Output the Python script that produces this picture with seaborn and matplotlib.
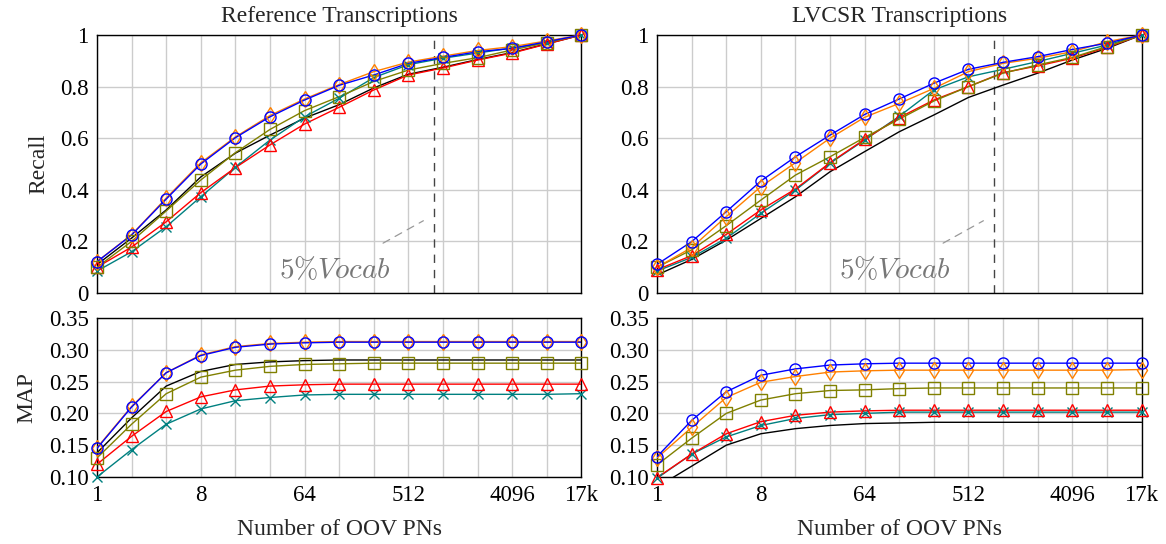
import numpy as np
import pandas as pd
import matplotlib
matplotlib.use('Agg')
import matplotlib.pyplot as plt
import seaborn as sns

sns.set_theme(style='white')
plt.rcParams['font.family'] = ['Liberation Serif', 'DejaVu Serif']
plt.rcParams['mathtext.fontset'] = 'cm'

# number of OOV proper names (last point is the full 17k list)
oov_counts = [1, 2, 4, 8, 16, 32, 64, 128, 256, 512, 1024, 2048, 4096, 8192, 16384]
x_tick_values = [1, 8, 64, 512, 4096, 16384]
x_tick_labels = ['1', '8', '64', '512', '4096', '17k']
vocab_5pct = 850

recall_ticks = [0, 0.2, 0.4, 0.6, 0.8, 1.0]
recall_tick_labels = ['0', '0.2', '0.4', '0.6', '0.8', '1']
map_ticks = [0.10, 0.15, 0.20, 0.25, 0.30, 0.35]
map_tick_labels = ['0.10', '0.15', '0.20', '0.25', '0.30', '0.35']

# Recall, reference transcriptions
ref_recall_blue = [0.121, 0.225, 0.364, 0.500, 0.602, 0.683, 0.748, 0.805, 0.845, 0.890, 0.913, 0.935, 0.948, 0.974, 1.0]
ref_recall_orange = [0.122, 0.226, 0.368, 0.505, 0.605, 0.688, 0.752, 0.808, 0.858, 0.895, 0.918, 0.940, 0.955, 0.977, 1.0]
ref_recall_black = [0.110, 0.213, 0.322, 0.450, 0.542, 0.612, 0.678, 0.730, 0.795, 0.848, 0.875, 0.905, 0.932, 0.966, 1.0]
ref_recall_olive = [0.100, 0.200, 0.318, 0.438, 0.544, 0.634, 0.707, 0.761, 0.820, 0.864, 0.890, 0.912, 0.942, 0.970, 1.0]
ref_recall_red = [0.100, 0.178, 0.276, 0.389, 0.486, 0.574, 0.655, 0.720, 0.787, 0.845, 0.872, 0.903, 0.930, 0.965, 1.0]
ref_recall_teal = [0.085, 0.160, 0.257, 0.373, 0.487, 0.593, 0.683, 0.755, 0.835, 0.885, 0.910, 0.930, 0.950, 0.970, 1.0]

# Recall, LVCSR transcriptions
asr_recall_blue = [0.111, 0.199, 0.315, 0.434, 0.528, 0.612, 0.692, 0.752, 0.813, 0.867, 0.894, 0.916, 0.944, 0.968, 1.0]
asr_recall_orange = [0.100, 0.176, 0.296, 0.412, 0.505, 0.600, 0.681, 0.735, 0.793, 0.858, 0.890, 0.910, 0.935, 0.974, 1.0]
asr_recall_black = [0.070, 0.130, 0.205, 0.289, 0.373, 0.470, 0.548, 0.625, 0.690, 0.758, 0.806, 0.852, 0.903, 0.948, 1.0]
asr_recall_olive = [0.100, 0.167, 0.261, 0.360, 0.457, 0.528, 0.603, 0.674, 0.744, 0.800, 0.852, 0.884, 0.913, 0.955, 1.0]
asr_recall_red = [0.090, 0.145, 0.227, 0.322, 0.403, 0.505, 0.596, 0.680, 0.748, 0.800, 0.854, 0.880, 0.910, 0.952, 1.0]
asr_recall_teal = [0.085, 0.138, 0.212, 0.309, 0.399, 0.503, 0.593, 0.685, 0.787, 0.838, 0.867, 0.897, 0.929, 0.961, 1.0]

# MAP, reference transcriptions
ref_map_blue = [0.145, 0.210, 0.264, 0.291, 0.304, 0.309, 0.311, 0.312, 0.312, 0.312, 0.312, 0.312, 0.312, 0.312, 0.312]
ref_map_orange = [0.146, 0.211, 0.264, 0.292, 0.305, 0.310, 0.312, 0.313, 0.313, 0.313, 0.313, 0.313, 0.313, 0.313, 0.313]
ref_map_black = [0.138, 0.193, 0.243, 0.266, 0.277, 0.281, 0.283, 0.284, 0.284, 0.284, 0.284, 0.284, 0.284, 0.284, 0.284]
ref_map_olive = [0.130, 0.183, 0.231, 0.257, 0.268, 0.274, 0.277, 0.278, 0.279, 0.279, 0.279, 0.279, 0.279, 0.279, 0.279]
ref_map_red = [0.120, 0.164, 0.203, 0.226, 0.237, 0.243, 0.245, 0.246, 0.246, 0.246, 0.246, 0.246, 0.246, 0.246, 0.246]
ref_map_teal = [0.100, 0.143, 0.183, 0.207, 0.220, 0.225, 0.229, 0.230, 0.230, 0.230, 0.230, 0.230, 0.230, 0.230, 0.231]

# MAP, LVCSR transcriptions
asr_map_blue = [0.132, 0.189, 0.234, 0.260, 0.270, 0.276, 0.278, 0.279, 0.279, 0.279, 0.279, 0.279, 0.279, 0.279, 0.279]
asr_map_orange = [0.130, 0.178, 0.225, 0.249, 0.258, 0.265, 0.267, 0.268, 0.268, 0.268, 0.268, 0.268, 0.268, 0.268, 0.269]
asr_map_black = [0.084, 0.117, 0.150, 0.168, 0.176, 0.181, 0.184, 0.185, 0.186, 0.186, 0.186, 0.186, 0.186, 0.186, 0.186]
asr_map_olive = [0.119, 0.161, 0.200, 0.221, 0.231, 0.236, 0.237, 0.239, 0.240, 0.240, 0.240, 0.240, 0.240, 0.240, 0.240]
asr_map_red = [0.099, 0.136, 0.168, 0.187, 0.197, 0.202, 0.204, 0.205, 0.205, 0.205, 0.205, 0.205, 0.205, 0.205, 0.205]
asr_map_teal = [0.098, 0.136, 0.163, 0.181, 0.192, 0.198, 0.200, 0.202, 0.202, 0.202, 0.202, 0.202, 0.202, 0.202, 0.202]

colors = {'blue': (0, 0, 1), 'orange': (1, 0.5, 0), 'black': (0, 0, 0),
          'olive': (0.5, 0.5, 0), 'red': (1, 0, 0), 'teal': (0, 0.5, 0.5)}
markers = {'blue': 'o', 'orange': 'd', 'black': None, 'olive': 's', 'red': '^', 'teal': 'x'}
marker_sizes = {'blue': 8, 'orange': 8.5, 'black': 0, 'olive': 8.5, 'red': 8, 'teal': 6.5}
draw_order = ['black', 'teal', 'red', 'olive', 'orange', 'blue']

panels = [
    ('recall', 'Reference Transcriptions', dict(blue=ref_recall_blue, orange=ref_recall_orange, black=ref_recall_black,
                                                 olive=ref_recall_olive, red=ref_recall_red, teal=ref_recall_teal)),
    ('recall', 'LVCSR Transcriptions', dict(blue=asr_recall_blue, orange=asr_recall_orange, black=asr_recall_black,
                                             olive=asr_recall_olive, red=asr_recall_red, teal=asr_recall_teal)),
    ('map', None, dict(blue=ref_map_blue, orange=ref_map_orange, black=ref_map_black,
                       olive=ref_map_olive, red=ref_map_red, teal=ref_map_teal)),
    ('map', None, dict(blue=asr_map_blue, orange=asr_map_orange, black=asr_map_black,
                       olive=asr_map_olive, red=asr_map_red, teal=asr_map_teal)),
]

fig = plt.figure(figsize=(11.66, 5.44), dpi=100)
lefts = [0.0832, 0.5635]
width = 0.4155
boxes = [
    [lefts[0], 0.4614, width, 0.4743],
    [lefts[1], 0.4614, width, 0.4743],
    [lefts[0], 0.1232, width, 0.2922],
    [lefts[1], 0.1232, width, 0.2922],
]

for k, (metric, title, series) in enumerate(panels):
    ax = fig.add_axes(boxes[k])
    for name in draw_order:
        # lines stay inside the axes, markers may overhang the frame
        sns.lineplot(x=oov_counts, y=series[name], ax=ax, color=colors[name],
                     linewidth=1.0, zorder=3)
        if markers[name]:
            sns.lineplot(x=oov_counts, y=series[name], ax=ax, color=colors[name],
                         linestyle='', marker=markers[name], markersize=marker_sizes[name],
                         markerfacecolor='none', markeredgecolor=colors[name],
                         markeredgewidth=1.0, zorder=4, clip_on=False)
    ax.set_xscale('log', base=2)
    ax.set_xlim(oov_counts[0], oov_counts[-1])
    ax.set_xticks(oov_counts)
    ax.set_xticklabels([x_tick_labels[x_tick_values.index(v)] if v in x_tick_values else '' for v in oov_counts])
    ax.minorticks_off()
    ax.grid(True, color='#cccccc', linewidth=1.0, zorder=0)
    ax.tick_params(direction='in', length=3, labelsize=16.5, colors='black', pad=6)
    for sp in ax.spines.values():
        sp.set_color('black')
        sp.set_linewidth(1.0)
    if metric == 'recall':
        ax.set_ylim(0, 1)
        ax.set_yticks(recall_ticks)
        ax.set_yticklabels(recall_tick_labels)
        ax.tick_params(axis='x', labelbottom=False)
        ax.set_title(title, fontsize=17, pad=9)
        ax.axvline(vocab_5pct, color='#444444', linestyle=(0, (6, 5)), linewidth=1.0, zorder=2)
        ax.annotate(r'$5\%Vocab$', xy=(690, 0.28), xytext=(118, 0.09),
                    fontsize=21, color='#777777', ha='center', va='center',
                    arrowprops=dict(arrowstyle='-', color='#999999', linestyle=(0, (6, 5)),
                                    linewidth=0.9, shrinkA=14, shrinkB=0))
    else:
        ax.set_ylim(0.10, 0.35)
        ax.set_yticks(map_ticks)
        ax.set_yticklabels(map_tick_labels)
        ax.set_xlabel('Number of OOV PNs', fontsize=17, labelpad=9)
    if k == 0:
        ax.set_ylabel('Recall', fontsize=17, labelpad=8)
    if k == 2:
        ax.set_ylabel('MAP', fontsize=17, labelpad=8)

fig.savefig('out.png', dpi=100)
